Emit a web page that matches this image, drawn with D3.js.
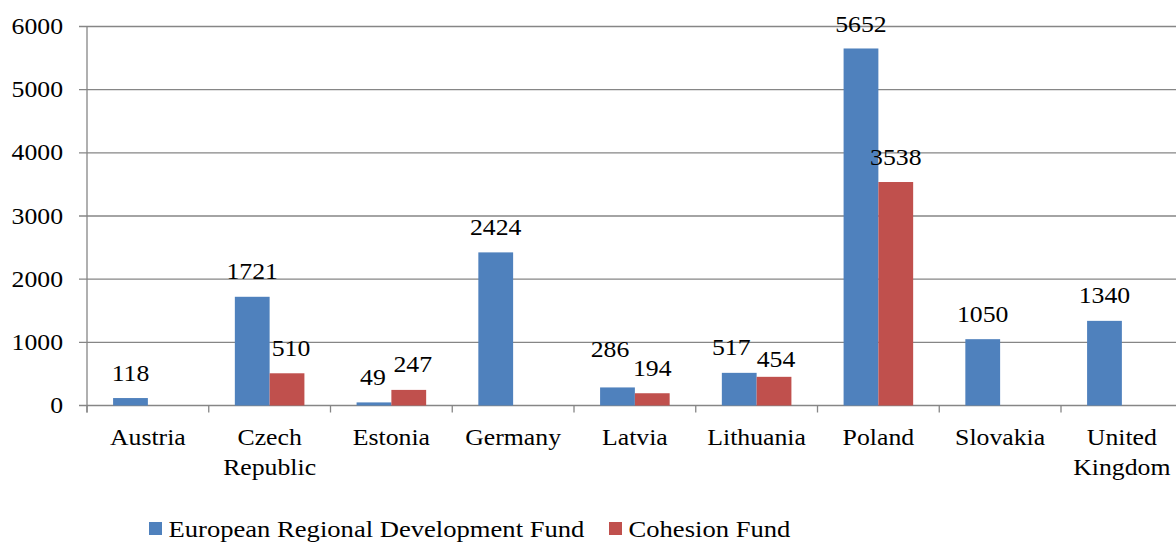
<!DOCTYPE html>
<html><head><meta charset="utf-8">
<script src="https://cdn.jsdelivr.net/npm/d3@7"></script>
<style>body{margin:0;background:#fff}svg{display:block}text{font-family:"Liberation Serif","Times New Roman",serif;fill:#000}</style>
</head><body>
<svg id="c" width="1176" height="543"></svg>
<script>
const categories = [["Austria"],["Czech","Republic"],["Estonia"],["Germany"],["Latvia"],["Lithuania"],["Poland"],["Slovakia"],["United","Kingdom"]];
const erdf = [118,1721,49,2424,286,517,5652,1050,1340];
const cohesion = [null,510,247,null,194,454,3538,null,null];
const seriesNames = ["European Regional Development Fund","Cohesion Fund"];
const colors = ["#4F81BD","#C0504D"];
const yTicks = [0,1000,2000,3000,4000,5000,6000];

// manual label nudges (as in the original chart), keyed "series-index"
const labelNudge = {"0-4":[-7.5,-12.5],"0-5":[-8,0],"1-5":[2,7.5],"1-2":[4,0],"0-2":[-1,0],"1-1":[4,0],"0-6":[0,1]};

const svg = d3.select("#c");
const pLeft = 87, pTop = 26.5, pBottom = 405.5;
const catW = 121.75;
const pRight = pLeft + catW * categories.length;
const SX = 1.12, FS = 23;

const x = d3.scaleBand().domain(d3.range(categories.length)).range([pLeft, pRight]).paddingInner(0).paddingOuter(0);
const y = d3.scaleLinear().domain([0,6000]).range([pBottom, pTop]);
const barW = x.bandwidth() / 3.5;

function stext(g, tx, ty, str, anchor, sx){
  return g.append("text").attr("transform", `translate(${tx},${ty}) scale(${sx || SX},1)`)
    .attr("text-anchor", anchor).attr("font-size", FS).text(str);
}

// gridlines
svg.append("g").selectAll("line").data(yTicks).join("line")
  .attr("x1", pLeft - 8).attr("x2", pRight).attr("y1", d => y(d)).attr("y2", d => y(d))
  .attr("stroke", "#868686").attr("stroke-width", 1.3);
// y axis line
svg.append("line").attr("x1", pLeft).attr("x2", pLeft).attr("y1", y(6000)).attr("y2", pBottom + 7)
  .attr("stroke", "#868686").attr("stroke-width", 1.3);
// x ticks
svg.append("g").selectAll("line").data(d3.range(categories.length + 1)).join("line")
  .attr("x1", i => pLeft + i * x.step()).attr("x2", i => pLeft + i * x.step())
  .attr("y1", pBottom).attr("y2", pBottom + 7).attr("stroke", "#868686").attr("stroke-width", 1.3);

// y labels
const yl = svg.append("g");
yTicks.forEach(t => stext(yl, 63, y(t) + 7.5, String(t), "end"));

// bars
const bars = svg.append("g");
const labels = svg.append("g");
[erdf, cohesion].forEach((vals, s) => {
  vals.forEach((v, i) => {
    if (v == null) return;
    const bx = x(i) + barW * 0.75 + s * barW;
    bars.append("rect").attr("x", bx).attr("y", y(v)).attr("width", barW).attr("height", pBottom - y(v))
      .attr("fill", colors[s]);
    const n = labelNudge[s + "-" + i] || [0, 0];
    stext(labels, bx + barW / 2 + n[0], y(v) - 17.5 + n[1], String(v), "middle");
  });
});

// category labels
const cl = svg.append("g");
categories.forEach((lines, i) => {
  lines.forEach((ln, k) => stext(cl, x(i) + x.bandwidth() / 2, 445 + k * 30, ln, "middle"));
});

// legend
const lg = svg.append("g");
const legX = [149, 609];
seriesNames.forEach((n, s) => {
  lg.append("rect").attr("x", legX[s]).attr("y", 522).attr("width", 13).attr("height", 13).attr("fill", colors[s]);
  stext(lg, legX[s] + 19.5, 537, n, "start", 1.157);
});
</script>
</body></html>
